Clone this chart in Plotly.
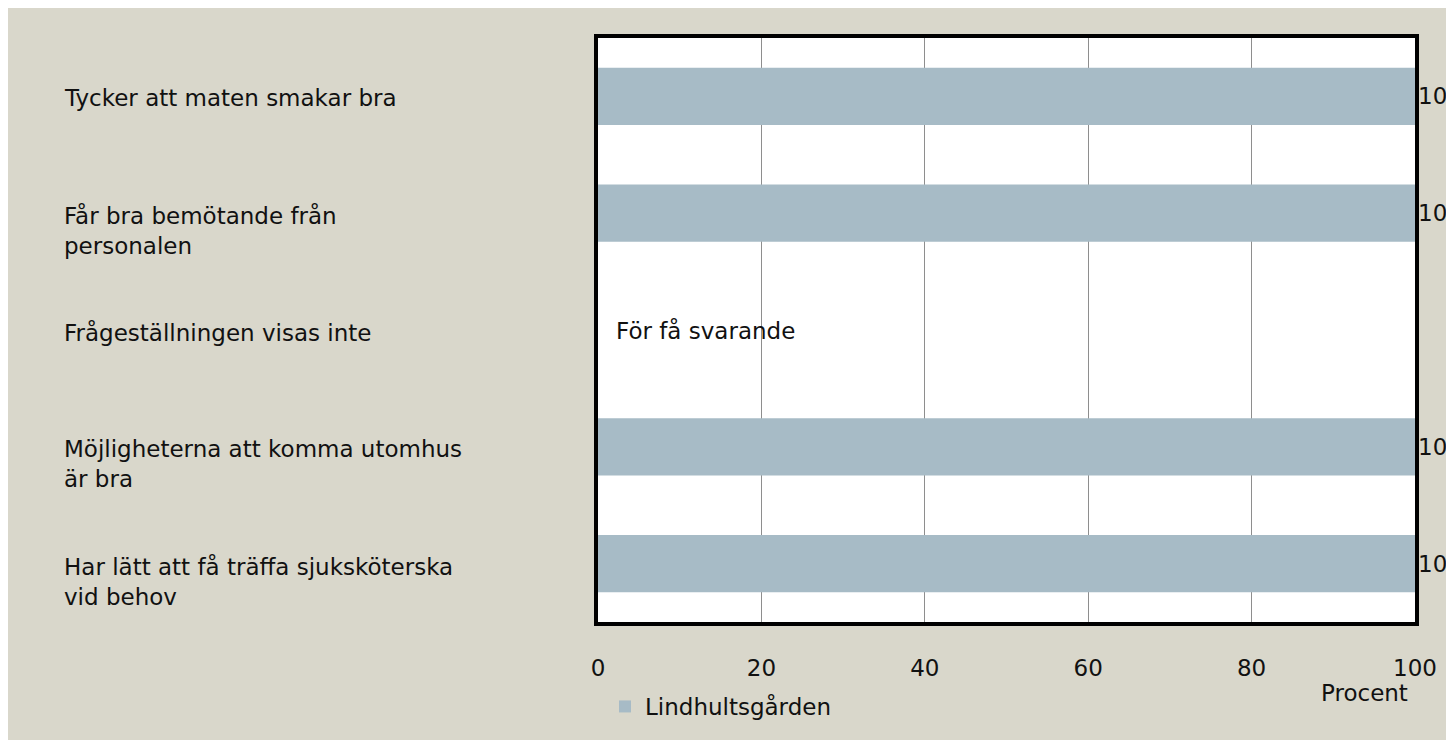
import plotly.graph_objects as go

categories = [
    "Tycker att maten smakar bra",
    "Får bra bemötande från<br>personalen",
    "Frågeställningen visas inte",
    "Möjligheterna att komma utomhus<br>är bra",
    "Har lätt att få träffa sjuksköterska<br>vid behov",
]
values = [100, 100, None, 100, 100]
labels = ["100", "100", "", "100", "100"]
series_name = "Lindhultsgården"
x_ticks = [0, 20, 40, 60, 80, 100]
note_text = "För få svarande"
axis_title = "Procent"

FONT = "DejaVu Sans"
FS = 23
BAR = "#A7BBC6"
BG = "#D9D7CB"
TXT = "#111111"

W, H = 1454, 740
L, R, T, B = 590, 47, 30, 126
pw, ph = W - L - R, H - T - B

def px_to_paper_x(px):
    return (px - L) / pw

def px_to_paper_y(py):
    return (H - B - py) / ph

fig = go.Figure()
fig.add_trace(go.Bar(
    y=categories, x=values, orientation="h", name=series_name,
    marker=dict(color=BAR, line=dict(width=0)), width=0.49,
    text=labels, textposition="outside", cliponaxis=False,
    textfont=dict(family=FONT, size=FS, color=TXT),
    showlegend=True,
))

annotations = []
for c in categories:
    annotations.append(dict(
        x=px_to_paper_x(54), xref="paper", y=c, yref="y",
        text=c, showarrow=False, xanchor="left", yanchor="top", yshift=13,
        align="left", font=dict(family=FONT, size=FS, color=TXT),
    ))
annotations.append(dict(
    x=2, xref="x", y=categories[2], yref="y", text=note_text, showarrow=False,
    xanchor="left", yanchor="middle",
    font=dict(family=FONT, size=FS, color=TXT),
))
annotations.append(dict(
    x=px_to_paper_x(1402), xref="paper", y=px_to_paper_y(685), yref="paper",
    text=axis_title, showarrow=False, xanchor="right", yanchor="middle",
    font=dict(family=FONT, size=FS, color=TXT),
))

fig.update_layout(
    width=W, height=H,
    margin=dict(l=L, r=R, t=T, b=B, autoexpand=False),
    paper_bgcolor=BG, plot_bgcolor="white",
    font=dict(family=FONT, size=FS, color=TXT),
    bargap=0.51,
    xaxis=dict(
        range=[0, 100], tickvals=x_ticks, ticktext=[str(v) for v in x_ticks],
        showgrid=True, gridcolor="#8E8E8E", gridwidth=1,
        showline=True, linecolor="black", linewidth=4, mirror=True,
        ticks="", ticklen=0, zeroline=False, ticklabelstandoff=22,
        tickfont=dict(family=FONT, size=FS, color=TXT),
    ),
    yaxis=dict(
        autorange="reversed", showticklabels=False, showgrid=False,
        showline=True, linecolor="black", linewidth=4, mirror=True,
        ticks="",
    ),
    legend=dict(
        orientation="h", x=px_to_paper_x(597), xanchor="left",
        y=px_to_paper_y(677), yanchor="top",
        font=dict(family=FONT, size=FS, color=TXT),
        bgcolor="rgba(0,0,0,0)",
    ),
    annotations=annotations,
)

fig.write_html("out.html")
